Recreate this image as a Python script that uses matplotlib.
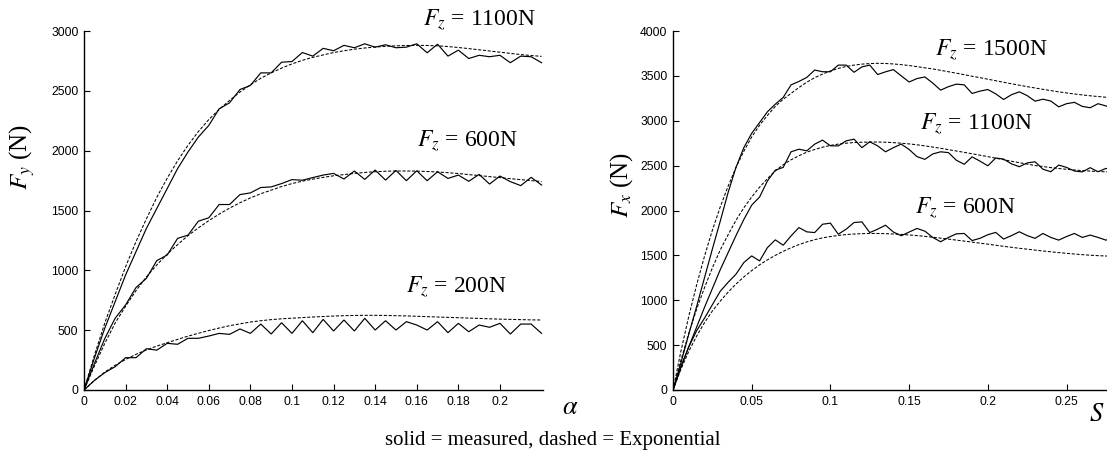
import numpy as np
import matplotlib
matplotlib.use("Agg")
import matplotlib.pyplot as plt

plt.rcParams['mathtext.fontset'] = 'stix'
plt.rcParams['font.family'] = ['Liberation Serif', 'DejaVu Serif']

# ---------------- data: left panel (lateral force vs slip angle) ----------------
alpha = np.round(np.arange(0, 0.2201, 0.005), 3)

fy1100_meas = [0, 267, 517, 739, 961, 1156, 1350, 1517, 1683, 1850, 1989, 2114, 2211, 2350, 2400,
               2511, 2545, 2650, 2650, 2739, 2745, 2820, 2790, 2855, 2835, 2880, 2860, 2893, 2865,
               2885, 2860, 2865, 2893, 2818, 2890, 2790, 2840, 2770, 2797, 2785, 2797, 2735, 2790,
               2785, 2735]
fy1100_exp = [0, 290, 560, 800, 1030, 1240, 1430, 1610, 1770, 1915, 2045, 2160, 2260, 2345, 2420,
              2490, 2550, 2605, 2650, 2690, 2725, 2755, 2780, 2800, 2820, 2835, 2848, 2858, 2866,
              2872, 2876, 2879, 2880, 2879, 2876, 2870, 2862, 2853, 2843, 2833, 2823, 2813, 2803,
              2795, 2788]
fy600_meas = [0, 220, 430, 600, 711, 856, 933, 1081, 1128, 1267, 1294, 1411, 1439, 1550, 1550,
              1633, 1647, 1692, 1697, 1725, 1758, 1753, 1775, 1796, 1810, 1763, 1830, 1760, 1838,
              1754, 1835, 1749, 1832, 1749, 1824, 1768, 1796, 1744, 1802, 1721, 1788, 1741, 1708,
              1777, 1713]
fy600_exp = [0, 200, 390, 560, 700, 830, 945, 1045, 1135, 1215, 1290, 1355, 1415, 1470, 1520,
             1565, 1605, 1640, 1670, 1700, 1725, 1745, 1762, 1777, 1790, 1800, 1810, 1818, 1824,
             1828, 1830, 1830, 1829, 1826, 1822, 1816, 1809, 1800, 1792, 1783, 1775, 1766, 1758,
             1750, 1742]
fy200_meas = [0, 80, 145, 195, 270, 270, 345, 333, 390, 382, 432, 432, 451, 473, 465,
              510, 473, 551, 468, 562, 473, 579, 479, 590, 493, 585, 493, 599, 501,
              579, 501, 571, 543, 501, 571, 479, 557, 487, 543, 524, 557, 468, 551,
              551, 473]
fy200_exp = [0, 80, 150, 207, 255, 298, 335, 367, 395, 423, 450, 474, 497, 518, 537,
             553, 568, 579, 588, 595, 600, 605, 610, 614, 618, 621, 623, 624, 624,
             623, 621, 619, 616, 613, 610, 607, 604, 601, 598, 595, 592, 590, 588,
             586, 585]

# ---------------- data: right panel (longitudinal force vs slip ratio) ----------------
slip = np.round(np.arange(0, 0.2801, 0.005), 3)

fx1500_meas = [0, 300, 620, 930, 1250, 1570, 1880, 2200, 2480, 2700, 2860, 2980, 3100, 3185,
               3260, 3400, 3438, 3483, 3565, 3546, 3546, 3620, 3620, 3540, 3600, 3620, 3515,
               3545, 3570, 3500, 3432, 3470, 3488, 3420, 3341, 3380, 3408, 3400, 3304, 3330,
               3348, 3300, 3237, 3290, 3322, 3280, 3218, 3240, 3220, 3155, 3190, 3205, 3160,
               3145, 3190, 3165, 3140]
fx1500_exp = [0, 430, 820, 1170, 1490, 1780, 2040, 2270, 2480, 2660, 2820, 2950, 3060, 3160,
              3240, 3305, 3370, 3430, 3480, 3520, 3555, 3583, 3605, 3620, 3631, 3637, 3640,
              3638, 3633, 3625, 3615, 3603, 3590, 3577, 3562, 3546, 3530, 3513, 3496, 3480,
              3463, 3446, 3429, 3412, 3396, 3380, 3365, 3350, 3336, 3322, 3310, 3298, 3288,
              3278, 3270, 3262, 3255]
fx1100_meas = [0, 250, 480, 700, 920, 1130, 1340, 1530, 1720, 1900, 2060, 2150, 2330, 2450,
               2480, 2654, 2683, 2665, 2739, 2784, 2721, 2720, 2776, 2795, 2700, 2766, 2720,
               2654, 2700, 2740, 2680, 2600, 2570, 2630, 2654, 2645, 2560, 2515, 2598, 2550,
               2498, 2585, 2573, 2520, 2488, 2530, 2543, 2460, 2432, 2506, 2480, 2440, 2430,
               2477, 2432, 2469, 2450]
fx1100_exp = [0, 330, 630, 900, 1140, 1360, 1560, 1730, 1890, 2030, 2150, 2260, 2355, 2440,
              2510, 2565, 2610, 2650, 2680, 2705, 2725, 2740, 2750, 2757, 2761, 2763, 2763,
              2761, 2756, 2750, 2742, 2732, 2720, 2707, 2693, 2678, 2663, 2648, 2632, 2616,
              2600, 2583, 2566, 2549, 2533, 2517, 2501, 2490, 2478, 2468, 2459, 2451, 2445,
              2439, 2435, 2431, 2427]
fx600_meas = [0, 260, 480, 660, 800, 950, 1100, 1200, 1290, 1420, 1494, 1438, 1587, 1673,
              1613, 1717, 1810, 1762, 1754, 1847, 1859, 1736, 1792, 1866, 1873, 1754, 1792,
              1836, 1760, 1719, 1760, 1800, 1770, 1700, 1652, 1700, 1740, 1744, 1665, 1690,
              1730, 1756, 1682, 1720, 1763, 1720, 1690, 1744, 1700, 1670, 1710, 1744, 1700,
              1726, 1700, 1670, 1690]
fx600_exp = [0, 230, 430, 600, 750, 880, 990, 1090, 1180, 1260, 1330, 1395, 1450, 1500,
             1545, 1585, 1620, 1650, 1675, 1695, 1710, 1722, 1732, 1738, 1742, 1744, 1744,
             1742, 1738, 1733, 1728, 1720, 1712, 1702, 1692, 1681, 1670, 1659, 1648, 1636,
             1625, 1613, 1601, 1590, 1579, 1569, 1559, 1549, 1540, 1531, 1523, 1515, 1508,
             1502, 1497, 1493, 1489]

left_xticks = [0, 0.02, 0.04, 0.06, 0.08, 0.1, 0.12, 0.14, 0.16, 0.18, 0.2]
left_xticklabels = ['0', '0.02', '0.04', '0.06', '0.08', '0.1', '0.12', '0.14', '0.16', '0.18', '0.2']
left_yticks = [0, 500, 1000, 1500, 2000, 2500, 3000]
right_xticks = [0, 0.05, 0.1, 0.15, 0.2, 0.25]
right_xticklabels = ['0', '0.05', '0.1', '0.15', '0.2', '0.25']
right_yticks = [0, 500, 1000, 1500, 2000, 2500, 3000, 3500, 4000]

left_labels = [(r'$F_z$ = 1100N', 0.163, 3091), (r'$F_z$ = 600N', 0.160, 2080),
               (r'$F_z$ = 200N', 0.155, 860)]
right_labels = [(r'$F_z$ = 1500N', 0.1665, 3786), (r'$F_z$ = 1100N', 0.157, 2962),
                (r'$F_z$ = 600N', 0.1537, 2027)]

# ---------------- figure ----------------
W, H = 1107, 462
fig = plt.figure(figsize=(W / 100, H / 100), dpi=100)

def px_axes(x0, x1, ytop, ybot):
    return fig.add_axes([x0 / W, (H - ybot) / H, (x1 - x0) / W, (ybot - ytop) / H])

axL = px_axes(84, 543, 31, 390)
axR = px_axes(673, 1107, 31, 390)

solid_kw = dict(color='black', lw=0.85, solid_joinstyle='miter')
dash_kw = dict(color='black', lw=0.75, linestyle=(0, (3.0, 1.6)))

for meas, exp in [(fy1100_meas, fy1100_exp), (fy600_meas, fy600_exp), (fy200_meas, fy200_exp)]:
    axL.plot(alpha, meas, **solid_kw)
    axL.plot(alpha, exp, **dash_kw)
for meas, exp in [(fx1500_meas, fx1500_exp), (fx1100_meas, fx1100_exp), (fx600_meas, fx600_exp)]:
    axR.plot(slip, meas, **solid_kw)
    axR.plot(slip, exp, **dash_kw)

axL.set_xlim(0, 0.2207)
axL.set_ylim(0, 3000)
axR.set_xlim(0, 0.2757)
axR.set_ylim(0, 4000)

for ax, xt, xtl, yt in [(axL, left_xticks, left_xticklabels, left_yticks),
                        (axR, right_xticks, right_xticklabels, right_yticks)]:
    ax.set_xticks(xt)
    ax.set_xticklabels(xtl)
    ax.set_yticks(yt)
    ax.set_yticklabels([str(v) for v in yt])
    for s in ['top', 'right']:
        ax.spines[s].set_visible(False)
    for s in ['left', 'bottom']:
        ax.spines[s].set_linewidth(1.0)
    ax.tick_params(direction='in', length=4, width=0.8, pad=4)
    for lab in ax.get_xticklabels() + ax.get_yticklabels():
        lab.set_fontfamily('Liberation Sans')
        lab.set_fontsize(8.7)

for txt, x, y in left_labels:
    axL.text(x, y, txt, fontsize=17, ha='left', va='center', clip_on=False)
for txt, x, y in right_labels:
    axR.text(x, y, txt, fontsize=17, ha='left', va='center', clip_on=False)

fig.text(22 / W, 1 - 157 / H, r'$F_y$ (N)', rotation=90, fontsize=18, ha='center', va='center')
fig.text(622 / W, 1 - 185 / H, r'$F_x$ (N)', rotation=90, fontsize=18, ha='center', va='center')
fig.text(570 / W, 1 - 408 / H, r'$\alpha$', fontsize=19, ha='center', va='center')
fig.text(1097 / W, 1 - 415 / H, r'$S$', fontsize=19, ha='center', va='center')
fig.text(553 / W, 1 - 440 / H, 'solid = measured, dashed = Exponential', fontsize=15,
         ha='center', va='center')

fig.savefig('out.png', dpi=100)
